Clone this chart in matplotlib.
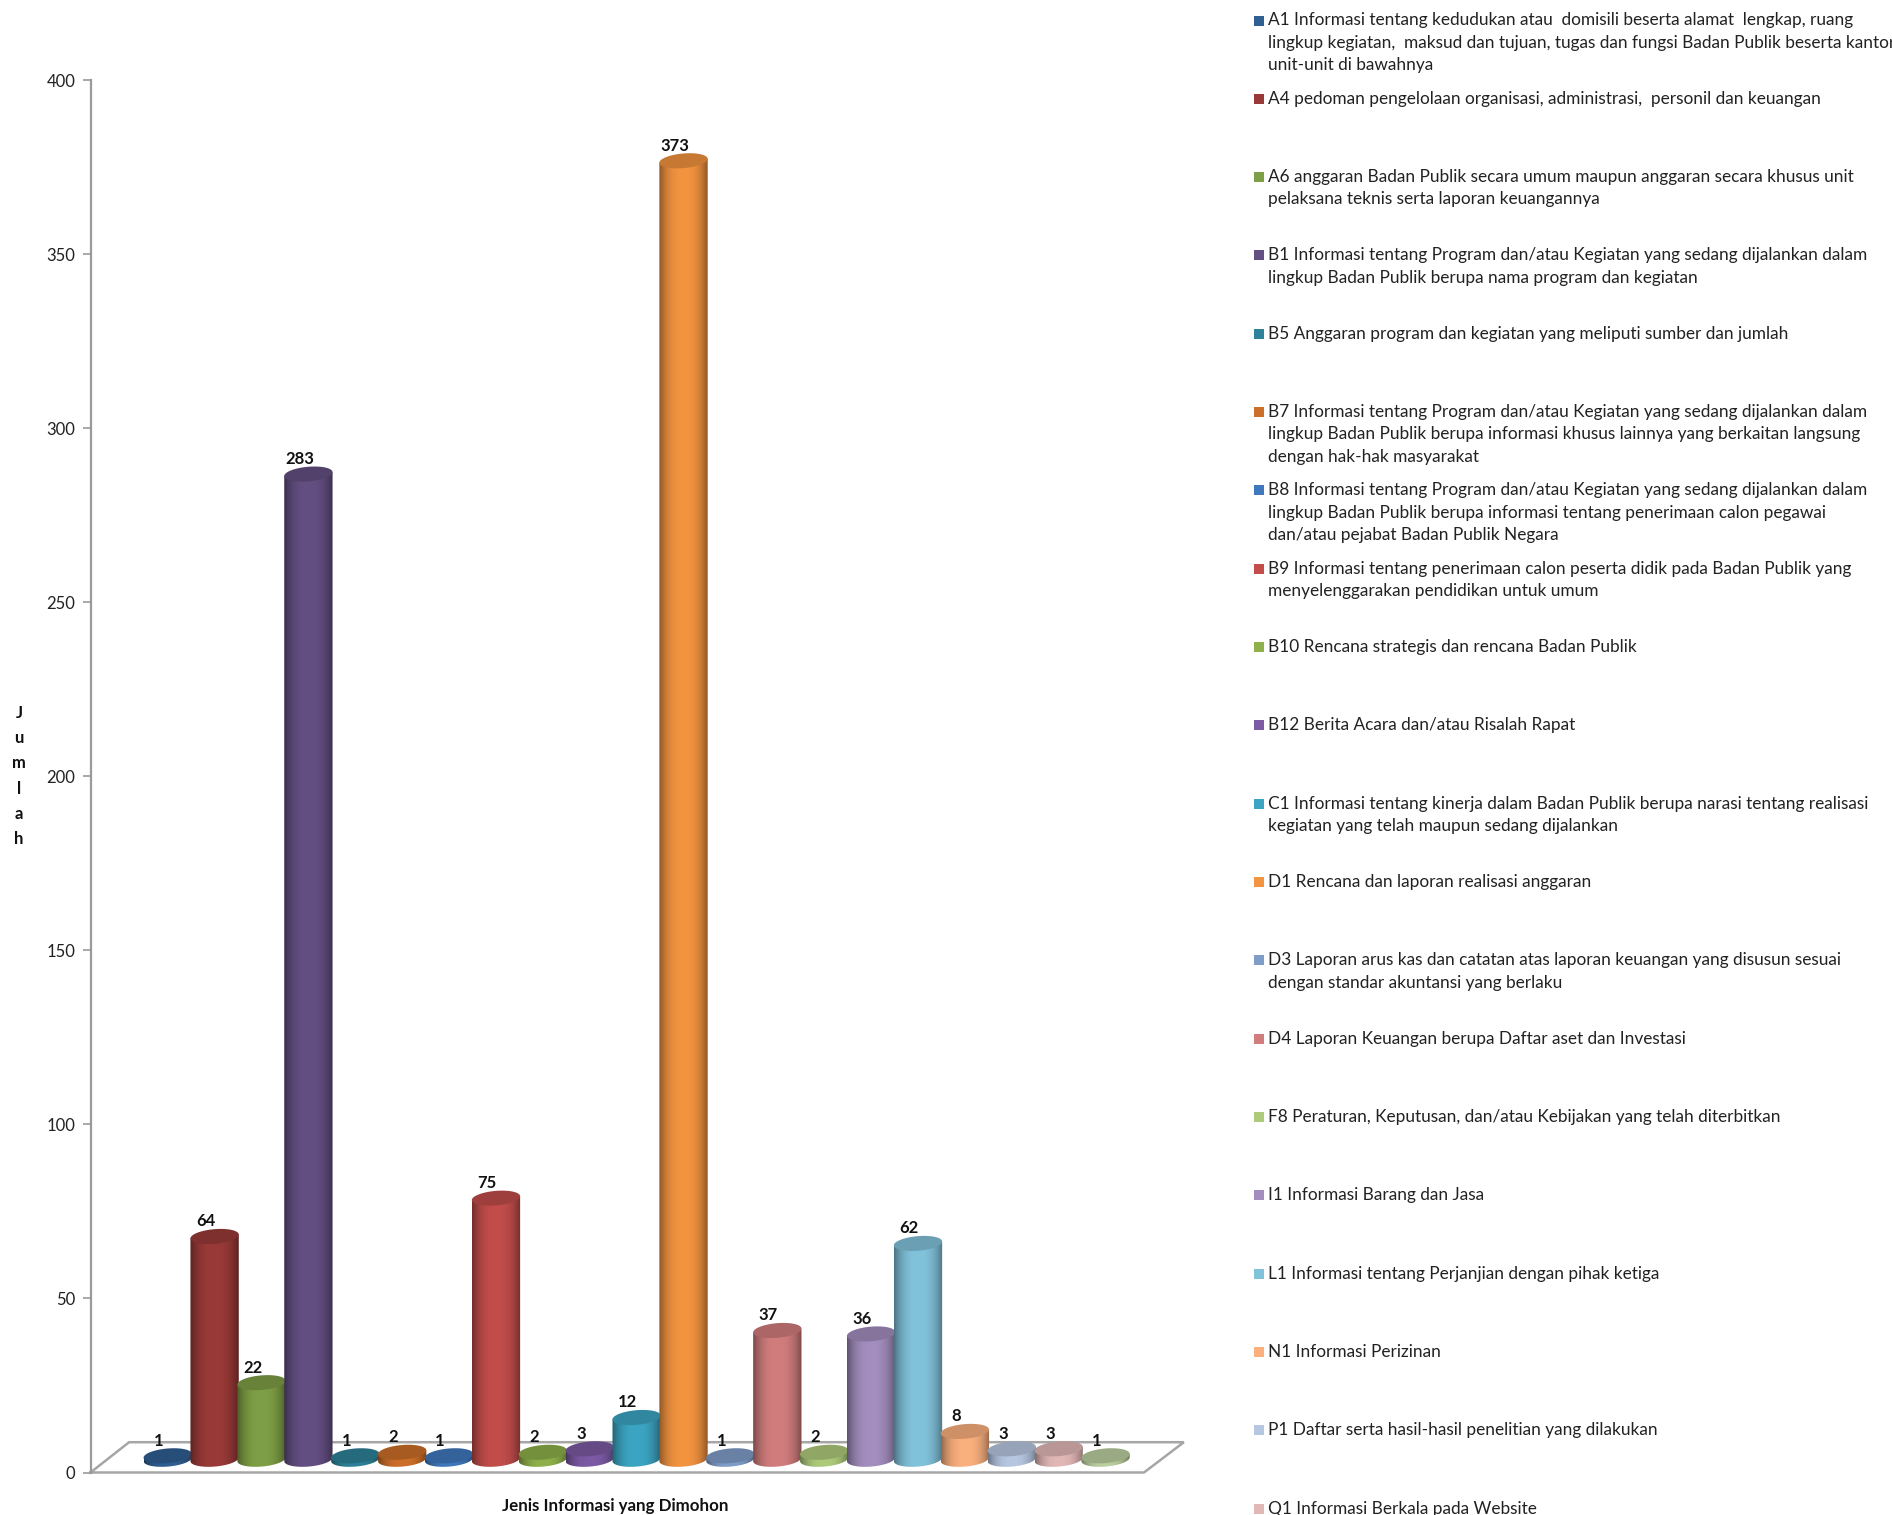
import numpy as np
import matplotlib.pyplot as plt
from matplotlib.patches import Polygon

plt.rcParams['font.family'] = ['Lato', 'DejaVu Sans']

# data
kode = ['A1', 'A4', 'A6', 'B1', 'B5', 'B7', 'B8', 'B9', 'B10', 'B12', 'C1',
        'D1', 'D3', 'D4', 'F8', 'I1', 'L1', 'N1', 'P1', 'Q1', 'R1']
jumlah = [1, 64, 22, 283, 1, 2, 1, 75, 2, 3, 12, 373, 1, 37, 2, 36, 62, 8, 3, 3, 1]
warna = ['#2F5F93', '#9A3A38', '#7F9F46', '#644F82', '#2E8299', '#CC6F28', '#3F78BC',
         '#C24D4A', '#8FB04A', '#7C5AA4', '#3CA5C3', '#F39440', '#7F9DC9', '#D27D7D',
         '#AECB7B', '#A38EBF', '#82C3DC', '#FBB07E', '#B7C7E2', '#E2B8B7', '#BCCFA0']
y_ticks = [0, 50, 100, 150, 200, 250, 300, 350, 400]

legend_labels = [
    'A1 Informasi tentang kedudukan atau  domisili beserta alamat  lengkap, ruang\n'
    'lingkup kegiatan,  maksud dan tujuan, tugas dan fungsi Badan Publik beserta kantor\n'
    'unit-unit di bawahnya',
    'A4 pedoman pengelolaan organisasi, administrasi,  personil dan keuangan',
    'A6 anggaran Badan Publik secara umum maupun anggaran secara khusus unit\n'
    'pelaksana teknis serta laporan keuangannya',
    'B1 Informasi tentang Program dan/atau Kegiatan yang sedang dijalankan dalam\n'
    'lingkup Badan Publik berupa nama program dan kegiatan',
    'B5 Anggaran program dan kegiatan yang meliputi sumber dan jumlah',
    'B7 Informasi tentang Program dan/atau Kegiatan yang sedang dijalankan dalam\n'
    'lingkup Badan Publik berupa informasi khusus lainnya yang berkaitan langsung\n'
    'dengan hak-hak masyarakat',
    'B8 Informasi tentang Program dan/atau Kegiatan yang sedang dijalankan dalam\n'
    'lingkup Badan Publik berupa informasi tentang penerimaan calon pegawai\n'
    'dan/atau pejabat Badan Publik Negara',
    'B9 Informasi tentang penerimaan calon peserta didik pada Badan Publik yang\n'
    'menyelenggarakan pendidikan untuk umum',
    'B10 Rencana strategis dan rencana Badan Publik',
    'B12 Berita Acara dan/atau Risalah Rapat',
    'C1 Informasi tentang kinerja dalam Badan Publik berupa narasi tentang realisasi\n'
    'kegiatan yang telah maupun sedang dijalankan',
    'D1 Rencana dan laporan realisasi anggaran',
    'D3 Laporan arus kas dan catatan atas laporan keuangan yang disusun sesuai\n'
    'dengan standar akuntansi yang berlaku',
    'D4 Laporan Keuangan berupa Daftar aset dan Investasi',
    'F8 Peraturan, Keputusan, dan/atau Kebijakan yang telah diterbitkan',
    'I1 Informasi Barang dan Jasa',
    'L1 Informasi tentang Perjanjian dengan pihak ketiga',
    'N1 Informasi Perizinan',
    'P1 Daftar serta hasil-hasil penelitian yang dilakukan',
    'Q1 Informasi Berkala pada Website',
]

fig = plt.figure(figsize=(18.92, 15.15), dpi=100, facecolor='white')

# axes box = front edge of the floor and y axis, in pixels of the image
left, right, bottom, top = 90.5, 1144, 1472.5, 80
ax = fig.add_axes([left / 1892, 1 - bottom / 1515, (right - left) / 1892, (bottom - top) / 1515])
ax.set_xlim(-1.647, 20.82)
ax.set_ylim(0, 400)
ax.patch.set_alpha(0)

for s in ['top', 'right', 'bottom']:
    ax.spines[s].set_visible(False)
ax.spines['left'].set_color('#9A9A9A')
ax.spines['left'].set_linewidth(1.6)
ax.set_xticks([])
ax.set_yticks(y_ticks)
ax.tick_params(axis='y', length=6, width=1.2, color='#9A9A9A', labelsize=12, pad=5, labelcolor='#222222')

# floor
floor_x = [-1.647, 20.82, 21.67, -0.824, -1.647]
floor_y = [0, 0, 8.7, 8.7, 0]
ax.plot(floor_x, floor_y, color='#A6A6A6', lw=1.8, clip_on=False, zorder=1, solid_joinstyle='miter')

# cylinders
base = 3.8
half_w = 0.515
half_h = 2.1
tilt = 0.55
t = np.linspace(0, 2 * np.pi, 120)
profile = np.linspace(-1, 1, 200)

for i, (v, c) in enumerate(zip(jumlah, warna)):
    rgb = np.array(plt.matplotlib.colors.to_rgb(c))
    z = 2 + i
    y_top = base + v

    # body: rectangle with half ellipse at the bottom
    tb = np.linspace(np.pi, 2 * np.pi, 60)
    bx = i + half_w * np.cos(tb)
    by = base + half_h * np.sin(tb) + tilt * np.cos(tb)
    body_x = np.concatenate([[i - half_w], bx, [i + half_w]])
    body_y = np.concatenate([[y_top + tilt * -1], by, [y_top + tilt]])
    body = Polygon(np.column_stack([body_x, body_y]), closed=True, fc='none', ec='none', zorder=z)
    ax.add_patch(body)

    shade = 1.0 - 0.42 * np.abs(profile) ** 2.6
    img = np.clip(rgb[None, None, :] * shade[None, :, None], 0, 1)
    im = ax.imshow(img, extent=[i - half_w, i + half_w, base - half_h - tilt, y_top + tilt],
                   aspect='auto', zorder=z, interpolation='bilinear')
    im.set_clip_path(body)

    # top face
    ex = i + half_w * np.cos(t)
    ey = y_top + half_h * np.sin(t) + tilt * np.cos(t)
    ax.fill(ex, ey, color=rgb * 0.82, lw=0, zorder=z + 0.5)

    ax.annotate(str(v), (i - 0.19, y_top), xytext=(0, 15), textcoords='offset pixels',
                ha='center', va='center', fontsize=12, fontweight='bold', color='#111111',
                zorder=40, annotation_clip=False)

ax.set_xlim(-1.647, 20.82)
ax.set_ylim(0, 400)

# overlay in image pixels for legend and axis titles
ov = fig.add_axes([0, 0, 1, 1], zorder=50)
ov.set_xlim(0, 1892)
ov.set_ylim(1515, 0)
ov.axis('off')

ov.text(615, 1506.5, 'Jenis Informasi yang Dimohon', ha='center', va='center',
        fontsize=12.2, fontweight='bold', color='#111111')
ov.text(19, 776, 'J\nu\nm\nl\na\nh', ha='center', va='center', fontsize=12,
        fontweight='bold', color='#111111', linespacing=1.72)

pitch = 78.33
for n, (lab, c) in enumerate(zip(legend_labels, warna)):
    y0 = 20.5 + n * pitch
    ov.add_patch(plt.Rectangle((1254, y0 - 5), 9.5, 10, fc=c, ec='none'))
    for j, baris in enumerate(lab.split('\n')):
        ov.text(1268, y0 + j * 22.3, baris, ha='left', va='center', fontsize=12.4, color='#222222')

plt.savefig('out.png', dpi=100)
plt.close()
